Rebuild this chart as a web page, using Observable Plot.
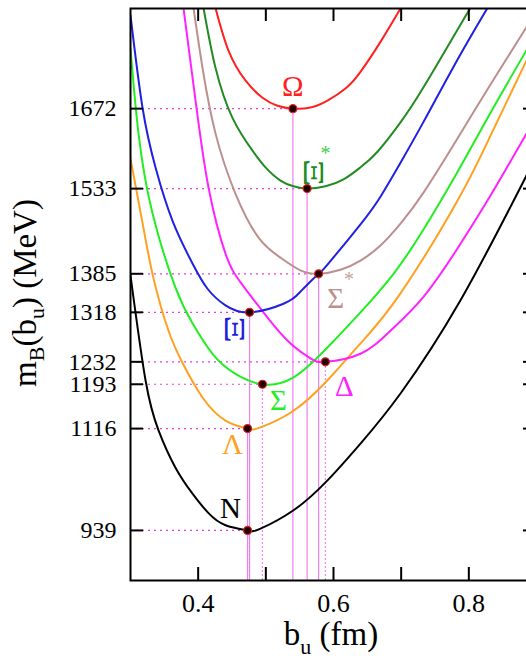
<!DOCTYPE html>
<html><head><meta charset="utf-8">
<script src="https://cdn.jsdelivr.net/npm/d3@7"></script>
<script src="https://cdn.jsdelivr.net/npm/@observablehq/plot@0.6"></script>
<style>
html,body{margin:0;padding:0;background:#fff;overflow:hidden;width:526px;height:658px}
svg.plot, #chart svg{max-width:none !important}
</style>
</head><body><div id="chart"></div>
<script>
// ---- data ----
const baryons = ["N","Λ","Σ","Δ","Ξ","Σ*","Ξ*","Ω"];
const colors  = ["#000000","#ffa020","#22ee22","#ff22ff","#2020e0","#bc8f8f","#228b22","#ff2020"];
const minB    = [0.473,0.473,0.495,0.588,0.476,0.578,0.561,0.540];
const minM    = [939,1116,1193,1232,1318,1385,1533,1672];
const solidDrop = ["Λ","Ξ","Σ*","Ξ*","Ω"];
const yTicks = [939,1116,1193,1232,1318,1385,1533,1672];
const xTicks = [0.4,0.5,0.6,0.7,0.8];
const xTickLabels = [0.4,0.6,0.8];

const curveN  = [[0.300,1382],[0.3222,1200],[0.3414,1113],[0.3665,1048],[0.3916,1003],[0.4153,969],[0.4404,948],[0.473,939],[0.4921,942],[0.5409,974],[0.5911,1026],[0.6399,1090],[0.699,1177],[0.7877,1339],[0.887,1560]];
const curveL  = [[0.300,1585],[0.3177,1474],[0.334,1377],[0.3562,1286],[0.3773,1229],[0.4064,1170],[0.4404,1130],[0.473,1116],[0.4921,1118],[0.5409,1147],[0.5911,1200],[0.6399,1264],[0.699,1351],[0.7832,1512],[0.832,1625],[0.887,1760]];
const curveS  = [[0.300,1776],[0.3118,1629],[0.3325,1490],[0.3665,1361],[0.3916,1299],[0.4212,1246],[0.4552,1211],[0.495,1193],[0.5409,1205],[0.5911,1257],[0.6399,1318],[0.6887,1385],[0.733,1462],[0.7832,1562],[0.832,1665],[0.887,1777]];
const curveD  = [[0.3783,1847],[0.3961,1686],[0.4153,1535],[0.4404,1420],[0.464,1368],[0.5025,1309],[0.5365,1264],[0.566,1238],[0.588,1232],[0.6399,1246],[0.6842,1286],[0.733,1345],[0.7832,1429],[0.832,1521],[0.887,1632]];
const curveX  = [[0.300,1834],[0.3177,1674],[0.3369,1570],[0.3621,1477],[0.3916,1403],[0.4138,1359],[0.4404,1330],[0.476,1318],[0.5261,1333],[0.5512,1354],[0.5778,1385],[0.5911,1401],[0.6399,1471],[0.6694,1519],[0.699,1578],[0.733,1649],[0.7832,1757],[0.8276,1847]];
const curveSS = [[0.3931,1847],[0.4064,1743],[0.4256,1629],[0.4552,1524],[0.4892,1448],[0.5217,1413],[0.5512,1391],[0.578,1385],[0.6103,1392],[0.6399,1408],[0.6694,1434],[0.699,1472],[0.733,1526],[0.7832,1620],[0.832,1714],[0.887,1817]];
const curveXS = [[0.4079,1847],[0.4256,1743],[0.4507,1656],[0.4803,1599],[0.4995,1570],[0.5217,1547],[0.5409,1537],[0.561,1533],[0.5882,1537],[0.6148,1549],[0.6399,1570],[0.665,1597],[0.699,1648],[0.733,1709],[0.7832,1809],[0.8024,1847]];
const curveO  = [[0.4256,1847],[0.4448,1773],[0.4699,1721],[0.4951,1691],[0.5172,1677],[0.540,1672],[0.566,1674],[0.5911,1686],[0.6177,1707],[0.6399,1736],[0.6694,1788],[0.699,1846]];

const curves = [curveN, curveL, curveS, curveD, curveX, curveSS, curveXS, curveO];

// ---- tables built from the arrays ----
const curveRows = curves.flatMap((c, i) => c.map(([b, m]) => ({baryon: baryons[i], b, m})));
const minRows = baryons.map((k, i) => ({baryon: k, b: minB[i], m: minM[i]}));
const byName = k => minRows.filter(d => d.baryon === k);

const X0 = 0.3, X1 = 0.9, Y0 = 852, Y1 = 1846;
const W = 536, H = 658, ML = 130, MR = 0, MT = 8, MB = 78;
const kx = (W - ML - MR) / (X1 - X0), ky = (H - MT - MB) / (Y1 - Y0);
const tl = 13; // tick length in px
const serif = "'Liberation Serif', 'DejaVu Serif', serif";
const lfs = 29;

const label = (name, dx, dy, fill, rotate = 0) =>
  Plot.text(byName(name), {x: "b", y: "m", text: d => d.baryon.slice(0, 1), dx, dy, fill, fontSize: lfs, fontFamily: serif, rotate});

const plot = Plot.plot({
  width: W, height: H, marginLeft: ML, marginRight: MR, marginTop: MT, marginBottom: MB,
  x: {domain: [X0, X1]},
  y: {domain: [Y0, Y1]},
  color: {domain: baryons, range: colors},
  style: {fontFamily: serif, background: "white", maxWidth: "none", color: "black"},
  marks: [
    Plot.ruleY(minRows, {x1: X0, x2: "b", y: "m", stroke: "#e040e0", strokeWidth: 1.2, strokeDasharray: "2,4"}),
    Plot.ruleX(minRows.filter(d => solidDrop.includes(d.baryon)), {x: "b", y1: Y0, y2: "m", stroke: "#ee82ee", strokeWidth: 1.2}),
    Plot.ruleX(minRows.filter(d => !solidDrop.includes(d.baryon)), {x: "b", y1: Y0, y2: "m", stroke: "#ee82ee", strokeWidth: 1.2, strokeDasharray: "2,2"}),
    Plot.line(curveRows, {x: "b", y: "m", z: "baryon", stroke: "baryon", strokeWidth: 2, curve: "natural", clip: true}),
    Plot.dot(minRows, {x: "b", y: "m", r: 4, fill: "#220000", stroke: "#e02020", strokeWidth: 1.2}),
    label("N", -17, -22, "#000"),
    label("Λ", -15, 16, "#ffa020"),
    label("Σ", 16, 16, "#22ee22"),
    label("Δ", 19, 25, "#ff22ff"),
    label("Ξ", -15, 17, "#2020e0", 90),
    label("Σ*", 17, 25, "#bc8f8f"),
    label("Ξ*", 6, -16, "#228b22", 90),
    label("Ω", 0, -22, "#ff2020"),
    Plot.frame({stroke: "black", strokeWidth: 2}),
    Plot.ruleY(yTicks, {x1: X0, x2: X0 + tl / kx, stroke: "black", strokeWidth: 2}),
    Plot.ruleY(yTicks, {x1: X1 - tl / kx, x2: X1, stroke: "black", strokeWidth: 2}),
    Plot.ruleX(xTicks, {y1: Y0, y2: Y0 + tl / ky, stroke: "black", strokeWidth: 2}),
    Plot.ruleX(xTicks, {y1: Y1 - tl / ky, y2: Y1, stroke: "black", strokeWidth: 2}),
    Plot.axisY({ticks: yTicks, tickSize: 0, tickPadding: 14, fontSize: 24, fontFamily: serif, tickFormat: d => String(d), label: null}),
    Plot.axisX({ticks: xTickLabels, tickSize: 0, tickPadding: 13, fontSize: 26, fontFamily: serif, tickFormat: d3.format(".1f"), label: null})
  ]
});

document.getElementById("chart").appendChild(plot);
const svg = d3.select(plot);
svg.style("max-width", "none");

// stretch the rotated Ξ glyphs along their bars, as in the reference
svg.selectAll("text").each(function () {
  const t = d3.select(this);
  const tr = t.attr("transform");
  if (t.text() === "Ξ" && tr && tr.includes("rotate")) t.attr("transform", tr + " scale(1.5,1)");
});

// asterisks of Σ* and Ξ*
const sx = plot.scale("x"), sy = plot.scale("y");
const addStar = (name, dx, dy, fill) => {
  const d = byName(name)[0];
  svg.append("text").attr("x", sx.apply(d.b) + dx).attr("y", sy.apply(d.m) + dy)
    .attr("text-anchor", "middle").attr("dominant-baseline", "middle")
    .attr("font-family", serif).attr("font-size", 20).attr("fill", fill).text("*");
};
addStar("Σ*", 31, 8, "#c9a3a3");
addStar("Ξ*", 19, -33, "#44cc44");

// axis titles with subscripts
const yl = svg.append("text").attr("transform", "translate(36,293) rotate(-90)")
  .attr("text-anchor", "middle").attr("font-family", serif).attr("font-size", 33).attr("fill", "black");
yl.append("tspan").text("m");
yl.append("tspan").attr("font-size", 22).attr("dy", 8).text("B");
yl.append("tspan").attr("dy", -8).text("(b");
yl.append("tspan").attr("font-size", 22).attr("dy", 8).text("u");
yl.append("tspan").attr("dy", -8).text(") (MeV)");

const xl = svg.append("text").attr("x", 331).attr("y", 645)
  .attr("text-anchor", "middle").attr("font-family", serif).attr("font-size", 33).attr("fill", "black");
xl.append("tspan").text("b");
xl.append("tspan").attr("font-size", 22).attr("dy", 9).text("u");
xl.append("tspan").attr("dy", -9).text(" (fm)");
</script>
</body></html>
